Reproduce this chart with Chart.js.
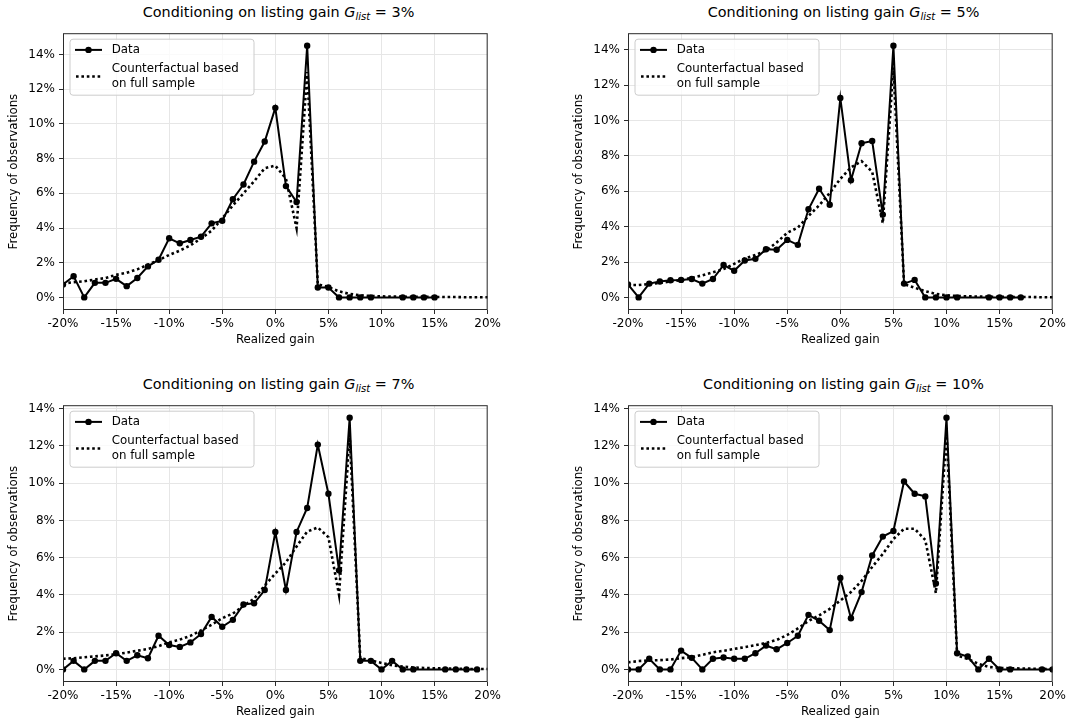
<!DOCTYPE html>
<html>
<head>
<meta charset="utf-8">
<script src="https://cdn.jsdelivr.net/npm/chart.js@4.4.0/dist/chart.umd.min.js"></script>
<style>
  html, body { margin: 0; padding: 0; background: #fff; }
  body { width: 1078px; height: 723px; position: relative; overflow: hidden; font-family: "DejaVu Sans", sans-serif; }
  .panel { position: absolute; }
  .panel canvas { position: absolute; left: 0; top: 0; }
  .ttl { position: absolute; font-size: 14.4px; line-height: 16px; color: #000; white-space: nowrap; text-align: center; }
  .ttl i { font-style: oblique; }
  .ttl sub { font-size: 0.7em; vertical-align: -0.3em; line-height: 0; }
</style>
</head>
<body>
<div id="root"></div>
<script>
// Realized gain grid (percent)
const gainGrid = [-20,-19,-18,-17,-16,-15,-14,-13,-12,-11,-10,-9,-8,-7,-6,-5,-4,-3,-2,-1,0,
                  1,2,3,4,5,6,7,8,9,10,11,12,13,14,15,16,17,18,19,20];

// Listing gains conditioned on, one per panel
const listingGains = [3, 5, 7, 10];

// Observed frequency (%) by realized gain; null = no observations at that gain
const dataG3 = [0.74,1.22,0,0.84,0.84,1.07,0.65,1.12,1.79,2.17,3.41,3.12,3.31,3.50,4.27,4.42,5.66,6.51,7.83,8.99,10.93,
                6.42,5.50,14.51,0.57,0.57,0,0,0,0,null,null,0,0,0,0,null,null,null,null,null];
const dataG5 = [0.73,0,0.78,0.90,0.97,0.99,1.04,0.78,1.04,1.83,1.51,2.09,2.18,2.72,2.69,3.25,2.97,4.98,6.14,5.24,11.27,
                6.62,8.71,8.84,4.68,14.22,0.78,0.99,0,0,0,0,null,null,0,0,0,0,null,null,null];
const dataG7 = [0,0.46,0,0.46,0.46,0.87,0.46,0.76,0.60,1.81,1.31,1.21,1.45,1.90,2.82,2.29,2.66,3.49,3.55,4.26,7.38,
                4.26,7.38,8.67,12.07,9.43,5.32,13.51,0.46,0.46,0,0.46,0,0,null,null,0,0,0,0,null];
const dataG10 = [0,0,0.57,0,0,1.01,0.62,0,0.57,0.64,0.57,0.57,0.87,1.28,1.08,1.42,1.81,2.93,2.61,2.11,4.91,
                 2.75,4.15,6.12,7.13,7.43,10.09,9.43,9.29,4.61,13.51,0.87,0.69,0,0.57,0,0,null,null,0,0];

// Counterfactual frequency (%) based on the full sample
const cfG3 = [0.80,0.88,0.93,1.03,1.12,1.30,1.42,1.62,1.88,2.15,2.45,2.70,3.00,3.40,3.85,4.55,5.30,6.00,6.70,7.45,7.60,
              6.85,4.00,13.00,0.75,0.60,0.35,0.20,0.12,0.08,0.06,0.05,0.04,0.04,0.03,0.03,0.02,0.02,0.01,0.01,0.01];
const cfG5 = [0.70,0.70,0.75,0.82,0.90,0.98,1.10,1.25,1.42,1.60,1.90,2.20,2.40,2.65,3.10,3.65,3.95,4.60,5.20,5.90,6.70,
              7.35,7.70,7.10,4.20,13.00,0.75,0.55,0.35,0.20,0.12,0.08,0.06,0.05,0.04,0.03,0.03,0.02,0.02,0.01,0.01];
const cfG7 = [0.57,0.60,0.65,0.70,0.75,0.82,0.90,1.00,1.10,1.25,1.45,1.60,1.80,2.10,2.40,2.75,3.00,3.40,3.80,4.50,5.15,
              5.75,6.60,7.40,7.62,7.10,4.00,12.60,0.60,0.48,0.35,0.22,0.15,0.10,0.08,0.06,0.05,0.04,0.03,0.02,0.02];
const cfG10 = [0.38,0.45,0.48,0.50,0.53,0.60,0.66,0.78,0.92,1.00,1.10,1.20,1.30,1.42,1.58,1.85,2.20,2.60,2.90,3.25,3.70,
               4.15,4.75,5.50,6.20,7.00,7.55,7.55,6.95,4.10,12.70,0.75,0.56,0.30,0.13,0.08,0.06,0.05,0.04,0.03,0.02];

// Axis ticks and text
const xTicks = [-20,-15,-10,-5,0,5,10,15,20];
const yTicks = [0,2,4,6,8,10,12,14];
const seriesLabels = ['Data', 'Counterfactual based\non full sample'];
const titlePrefix = 'Conditioning on listing gain ';
const xAxisLabel = 'Realized gain';
const yAxisLabel = 'Frequency of observations';

const observed = [dataG3, dataG5, dataG7, dataG10];
const counterfactual = [cfG3, cfG5, cfG7, cfG10];

// Layout: plot-area origin for each panel (px), common size
const panelOrigins = [[63, 30], [628, 30], [63, 402], [628, 402]];
const plotW = 431, plotH = 280;
const yAxisW = 63, xAxisH = 40, padTop = 8, padRight = 10;

const FONT = '"DejaVu Sans", sans-serif';

function toPoints(vals) {
  return gainGrid.map((g, i) => ({ x: g, y: vals[i] }));
}

// Full box frame around the plot area
const framePlugin = {
  id: 'frame',
  afterDraw(chart) {
    const { ctx, chartArea: a } = chart;
    ctx.save();
    ctx.strokeStyle = '#2b2b2b';
    ctx.lineWidth = 1;
    ctx.strokeRect(a.left + 0.5, a.top + 0.5, a.right - a.left - 1, a.bottom - a.top - 1);
    ctx.restore();
  }
};

// Legend box in the upper-left corner of the plot area
const boxLegendPlugin = {
  id: 'boxLegend',
  afterDraw(chart) {
    const { ctx, chartArea: a } = chart;
    const x = a.left + 7, y = a.top + 6, w = 184, h = 56, r = 3;
    ctx.save();
    ctx.beginPath();
    ctx.moveTo(x + r, y);
    ctx.lineTo(x + w - r, y); ctx.arcTo(x + w, y, x + w, y + r, r);
    ctx.lineTo(x + w, y + h - r); ctx.arcTo(x + w, y + h, x + w - r, y + h, r);
    ctx.lineTo(x + r, y + h); ctx.arcTo(x, y + h, x, y + h - r, r);
    ctx.lineTo(x, y + r); ctx.arcTo(x, y, x + r, y, r);
    ctx.closePath();
    ctx.fillStyle = 'rgba(255,255,255,0.8)';
    ctx.fill();
    ctx.strokeStyle = '#cccccc';
    ctx.lineWidth = 1;
    ctx.stroke();

    // observed series handle
    const y1 = y + 10.7;
    ctx.strokeStyle = '#000';
    ctx.lineWidth = 2;
    ctx.setLineDash([]);
    ctx.beginPath(); ctx.moveTo(x + 5, y1); ctx.lineTo(x + 32, y1); ctx.stroke();
    ctx.fillStyle = '#000';
    ctx.beginPath(); ctx.arc(x + 18.5, y1, 3.2, 0, Math.PI * 2); ctx.fill();

    // counterfactual handle
    const y2 = y + 37.3;
    ctx.lineWidth = 2.6;
    ctx.setLineDash([2.6, 2.8]);
    ctx.beginPath(); ctx.moveTo(x + 6, y2); ctx.lineTo(x + 31, y2); ctx.stroke();
    ctx.setLineDash([]);

    ctx.font = '11.8px ' + FONT;
    ctx.textBaseline = 'middle';
    ctx.textAlign = 'left';
    ctx.fillText(seriesLabels[0], x + 41.7, y1);
    const lines = seriesLabels[1].split('\n');
    ctx.fillText(lines[0], x + 41.7, y + 29.7);
    ctx.fillText(lines[1], x + 41.7, y + 44.7);
    ctx.restore();
  }
};

listingGains.forEach((G, k) => {
  const [ox, oy] = panelOrigins[k];
  const cw = yAxisW + plotW + padRight, ch = padTop + plotH + xAxisH;

  // title with italic G and subscript
  const t = document.createElement('div');
  t.className = 'ttl';
  t.style.left = ox + 'px';
  t.style.width = plotW + 'px';
  t.style.top = (oy - 26) + 'px';
  t.innerHTML = titlePrefix + '<i>G</i><sub><i>list</i></sub> = ' + G + '%';
  document.body.appendChild(t);

  const wrap = document.createElement('div');
  wrap.className = 'panel';
  wrap.style.left = (ox - yAxisW) + 'px';
  wrap.style.top = (oy - padTop) + 'px';
  wrap.style.width = cw + 'px';
  wrap.style.height = ch + 'px';
  const cv = document.createElement('canvas');
  cv.width = cw; cv.height = ch;
  cv.style.width = cw + 'px'; cv.style.height = ch + 'px';
  wrap.appendChild(cv);
  document.body.appendChild(wrap);

  // y limits with 5% margins around the data
  const all = observed[k].concat(counterfactual[k]).filter(v => v !== null);
  const lo = Math.min(...all), hi = Math.max(...all);
  const m = 0.05 * (hi - lo);

  new Chart(cv, {
    type: 'line',
    data: {
      datasets: [
        {
          label: seriesLabels[1],
          data: toPoints(counterfactual[k]),
          borderColor: '#000',
          borderWidth: 2.6,
          borderDash: [2.6, 2.8],
          pointRadius: 0,
          fill: false,
          tension: 0,
          clip: 0,
          order: 0
        },
        {
          label: seriesLabels[0],
          data: toPoints(observed[k]),
          borderColor: '#000',
          borderWidth: 2,
          pointRadius: 3.2,
          pointBackgroundColor: '#000',
          pointBorderWidth: 0,
          spanGaps: true,
          fill: false,
          tension: 0,
          clip: 0,
          order: 1
        }
      ]
    },
    options: {
      responsive: false,
      animation: false,
      devicePixelRatio: 1,
      layout: { padding: { left: 0, top: padTop, right: padRight, bottom: 0 } },
      plugins: { legend: { display: false }, tooltip: { enabled: false }, title: { display: false } },
      scales: {
        x: {
          type: 'linear',
          min: -20, max: 20,
          afterFit: s => { s.height = xAxisH; },
          afterBuildTicks: s => { s.ticks = xTicks.map(v => ({ value: v })); },
          grid: { color: '#e6e6e6', lineWidth: 1, tickColor: '#2b2b2b', tickLength: 4, tickWidth: 1 },
          border: { display: false },
          ticks: { color: '#000', font: { family: FONT, size: 12 }, padding: 3, maxRotation: 0,
                   callback: v => v + '%' },
          title: { display: true, text: xAxisLabel, color: '#000', font: { family: FONT, size: 11.8 },
                   padding: { top: 0, bottom: 3 } }
        },
        y: {
          type: 'linear',
          min: lo - m, max: hi + m,
          afterFit: s => { s.width = yAxisW; },
          afterBuildTicks: s => { s.ticks = yTicks.map(v => ({ value: v })); },
          grid: { color: '#e6e6e6', lineWidth: 1, tickColor: '#2b2b2b', tickLength: 4, tickWidth: 1 },
          border: { display: false },
          ticks: { color: '#000', font: { family: FONT, size: 12 }, padding: 4,
                   callback: v => v + '%' },
          title: { display: true, text: yAxisLabel, color: '#000', font: { family: FONT, size: 11.8 },
                   padding: { top: 7, bottom: 0 } }
        }
      }
    },
    plugins: [framePlugin, boxLegendPlugin]
  });
});
</script>
</body>
</html>
